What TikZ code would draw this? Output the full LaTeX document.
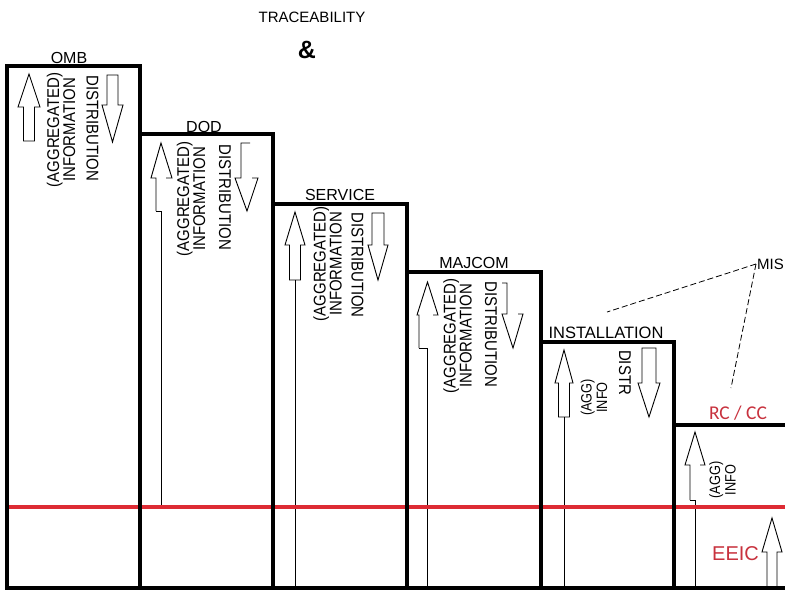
\documentclass[tikz,border=0pt]{standalone}
\usepackage{fontspec}
\setmainfont{Liberation Sans}
\newfontfamily\carlitofont{Carlito}
\newfontfamily\narrowfont[FakeStretch=0.88]{Liberation Sans}
\newfontfamily\narrowerfont[FakeStretch=0.85]{Liberation Sans}
\definecolor{redline}{RGB}{221,43,52}
\definecolor{redtext}{RGB}{200,50,62}
\tikzset{
  stepline/.style={line width=3.5pt, line join=miter, line cap=rect},
  arr/.style={line width=0.9pt, line join=miter},
  hlabel/.style={anchor=base, inner sep=0pt, font=\fontsize{16}{18}\selectfont},
  vlabel/.style={inner sep=0pt, align=center, font=\narrowfont\fontsize{17}{16}\selectfont},
  vsmall/.style={inner sep=0pt, align=center, font=\narrowerfont\fontsize{15}{15.5}\selectfont},
  misline/.style={line width=0.8pt, dash pattern=on 6pt off 3pt},
}
% full up arrow: cx, tip, headbase, bottom, headhalf, bodyhalf
\newcommand\myuparrow[6]{%
  \draw[arr] (#1,#2) -- ({#1+#5},#3) -- ({#1+#6},#3) -- ({#1+#6},#4) -- ({#1-#6},#4) -- ({#1-#6},#3) -- ({#1-#5},#3) -- cycle;}
% full down arrow: cx, top, headbase, tip, headhalf, bodyhalf
\newcommand\mydownarrow[6]{%
  \draw[arr] (#1,#4) -- ({#1+#5},#3) -- ({#1+#6},#3) -- ({#1+#6},#2) -- ({#1-#6},#2) -- ({#1-#6},#3) -- ({#1-#5},#3) -- cycle;}
\begin{document}
\begin{tikzpicture}[x=1pt,y=-1pt]
\useasboundingbox (0,0) rectangle (785,598);
\fill[white] (0,0) rectangle (785,598);

% ---- header text
\node[anchor=base, inner sep=0pt, font=\fontsize{15}{17}\selectfont] (trace) at (312,22.5) {TRACEABILITY};
\node[anchor=base, inner sep=0pt, font=\bfseries\fontsize{25}{28}\selectfont] (amp) at (307,58) {\&};

% ---- arrows (thin)
% OMB
\myuparrow{29}{74}{107}{141}{11}{5.5}
\mydownarrow{112.5}{75}{105}{142}{10.5}{5.5}
% DOD
\draw[arr] (156,211) -- (156,178) -- (151,178) -- (161,143) -- (172,178) -- (166,178);
\draw[arr] (156,211) -- (161,211) -- (161,507);
\draw[arr] (250,143) -- (241,143) -- (241,178) -- (235,178) -- (247,211) -- (258,178) -- (252,178);
% SERVICE
\myuparrow{295}{212}{245}{280}{10}{5.5}
\draw[arr] (295,280) -- (295,588);
\mydownarrow{378}{213}{245}{280}{10}{6}
% MAJCOM
\draw[arr] (419,348) -- (419,315) -- (417,315) -- (427.5,282) -- (438,315) -- (433,315);
\draw[arr] (419,348) -- (427,348) -- (427,588);
\draw[arr] (502,283) -- (507,283) -- (507,314) -- (502,314) -- (513,348) -- (523,314) -- (518,314);
% INSTALLATION
\myuparrow{564}{350}{383}{417}{9}{5.5}
\draw[arr] (564,417) -- (564,588);
\mydownarrow{649}{348}{383}{417}{11}{7}
% RC/CC
\draw[arr] (690,500) -- (690,465) -- (685,465) -- (695,432) -- (705,465) -- (700,465);
\draw[arr] (690,500) -- (695,500) -- (695,588);
% EEIC
\draw[arr] (767,588) -- (767,552) -- (762,552) -- (772,518) -- (782,552) -- (777,552) -- (777,588);

% ---- red line
\draw[line width=4pt, redline] (7,507) -- (785,507);

% ---- staircase
\draw[stepline] (7,588) -- (7,66) -- (140,66) -- (140,134) -- (273,134) -- (273,204) -- (407,204)
  -- (407,272) -- (541,272) -- (541,342) -- (674,342) -- (674,425) -- (785,425);
\draw[stepline] (140,66) -- (140,588);
\draw[stepline] (273,134) -- (273,588);
\draw[stepline] (407,204) -- (407,588);
\draw[stepline] (541,272) -- (541,588);
\draw[stepline] (674,342) -- (674,588);
\draw[stepline] (7,588) -- (785,588);

% ---- level labels
\node[hlabel] (omb) at (69,63) {OMB};
\node[hlabel] (dod) at (204,132) {DOD};
\node[hlabel] (service) at (340,200) {SERVICE};
\node[hlabel] (majcom) at (474,268) {MAJCOM};
\node[hlabel, font=\fontsize{16.5}{18}\selectfont] (install) at (606,338) {INSTALLATION};
\node[anchor=base, inner sep=0pt, text=redtext, font=\carlitofont\fontsize{19.5}{21}\selectfont] (rccc) at (738,419) {RC / CC};
\node[anchor=base west, inner sep=0pt, text=redtext, font=\fontsize{20}{22}\selectfont] (eeic) at (712,560) {EEIC};
\node[anchor=base west, inner sep=0pt, font=\fontsize{15}{17}\selectfont] (mis) at (757,269) {MIS};

% ---- rotated labels
\node[vlabel, rotate=90] (ombagg) at (61,130) {(AGGREGATED)\\INFORMATION};
\node[vlabel, rotate=-90] (ombdist) at (92.5,128.5) {DISTRIBUTION};
\node[vlabel, rotate=90] (dodagg) at (191,199) {(AGGREGATED)\\INFORMATION};
\node[vlabel, rotate=-90] (doddist) at (225,197.5) {DISTRIBUTION};
\node[vlabel, rotate=90] (servagg) at (327.5,264) {(AGGREGATED)\\INFORMATION};
\node[vlabel, rotate=-90] (servdist) at (357.5,265) {DISTRIBUTION};
\node[vlabel, rotate=90] (majagg) at (457.5,336) {(AGGREGATED)\\INFORMATION};
\node[vlabel, rotate=-90] (majdist) at (491,334.5) {DISTRIBUTION};
\node[vsmall, rotate=90] (instagg) at (594,397.5) {(AGG)\\INFO};
\node[vlabel, rotate=-90] (instdist) at (625,372.5) {DISTR};
\node[vsmall, rotate=90] (rcagg) at (722.5,480) {(AGG)\\INFO};

% ---- MIS dashed pointers
\coordinate (misA) at (607,312);
\coordinate (misB) at (731,388);
\coordinate (misO) at (756,264);
\draw[misline] (misO) -- (misA);
\draw[misline] (misO) -- (misB);
\end{tikzpicture}
\end{document}
